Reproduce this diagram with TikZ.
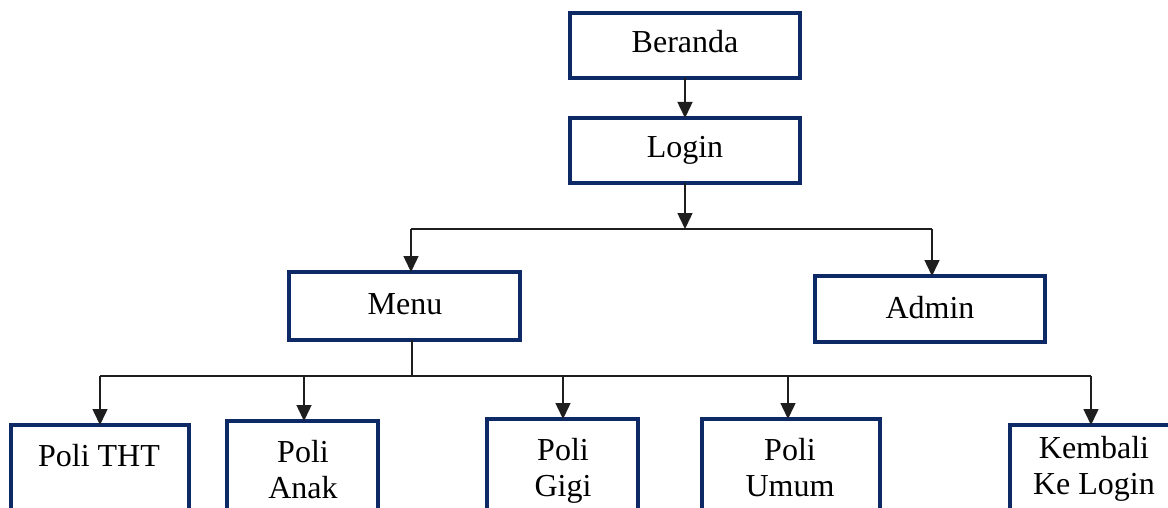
\documentclass[tikz,border=0pt]{standalone}
\usepackage{fontspec}
\setmainfont{Liberation Serif}
\usetikzlibrary{arrows.meta}
\definecolor{navy}{HTML}{0D2A66}
\definecolor{connc}{HTML}{1E1E1E}
\begin{document}
\begin{tikzpicture}[x=1pt,y=-1pt,
 box/.style={draw=navy, line width=3.2pt, fill=white, inner sep=0pt, outer sep=0pt},
 lbl/.style={font=\fontsize{32}{36}\selectfont, align=center, inner sep=0pt, text=black, anchor=base},
 conn/.style={draw=connc, line width=1.5pt},
 arr/.style={conn, -{Triangle[length=16pt,width=15pt]}}]
\useasboundingbox (0,0) rectangle (1168,508);
\fill[white] (0,0) rectangle (1168,508);
\clip (0,0) rectangle (1168,508);
% boxes
\node[box, anchor=north west, minimum width=230, minimum height=65] (beranda) at (570,13) {};
\node[box, anchor=north west, minimum width=230, minimum height=65] (login) at (570,118) {};
\node[box, anchor=north west, minimum width=231, minimum height=68] (menu) at (289,272) {};
\node[box, anchor=north west, minimum width=230, minimum height=66] (admin) at (815,276) {};
\node[box, anchor=north west, minimum width=178, minimum height=120] (tht) at (11,425) {};
\node[box, anchor=north west, minimum width=151, minimum height=120] (anak) at (227,421) {};
\node[box, anchor=north west, minimum width=151, minimum height=120] (gigi) at (487,419) {};
\node[box, anchor=north west, minimum width=178, minimum height=120] (umum) at (702,419) {};
\node[box, anchor=north west, minimum width=200, minimum height=120] (kembali) at (1010,425) {};
% labels (base = baseline of last line)
\node[lbl] (tberanda) at (685,53) {Beranda};
\node[lbl] (tlogin) at (685,158) {Login};
\node[lbl] (tmenu) at (405,314) {Menu};
\node[lbl] (tadmin) at (930,318) {Admin};
\node[lbl] (ttht) at (99,466) {Poli THT};
\node[lbl] (tanak) at (303,498) {Poli\\Anak};
\node[lbl] (tgigi) at (563,496) {Poli\\Gigi};
\node[lbl] (tumum) at (790,496) {Poli\\Umum};
\node[lbl] (tkembali) at (1094,494) {Kembali\\Ke Login};
% connectors
\coordinate (j1) at (685,229);
\coordinate (jm) at (411,229);
\coordinate (ja) at (932,229);
\draw[arr] (beranda.south) -- (login.north);
\draw[arr] (login.south) -- (login.south |- j1);
\draw[conn] (jm) -- (ja);
\draw[arr] (jm) -- (jm |- menu.north);
\draw[arr] (ja) -- (ja |- admin.north);
\coordinate (j2) at (412,376);
\coordinate (jt) at (100,376);
\coordinate (jn) at (304,376);
\coordinate (jg) at (563,376);
\coordinate (ju) at (788,376);
\coordinate (jk) at (1091,376);
\draw[conn] (menu.south -| j2) -- (j2);
\draw[conn] (jt) -- (jk);
\draw[arr] (jt) -- (jt |- tht.north);
\draw[arr] (jn) -- (jn |- anak.north);
\draw[arr] (jg) -- (jg |- gigi.north);
\draw[arr] (ju) -- (ju |- umum.north);
\draw[arr] (jk) -- (jk |- kembali.north);
\end{tikzpicture}
\end{document}
